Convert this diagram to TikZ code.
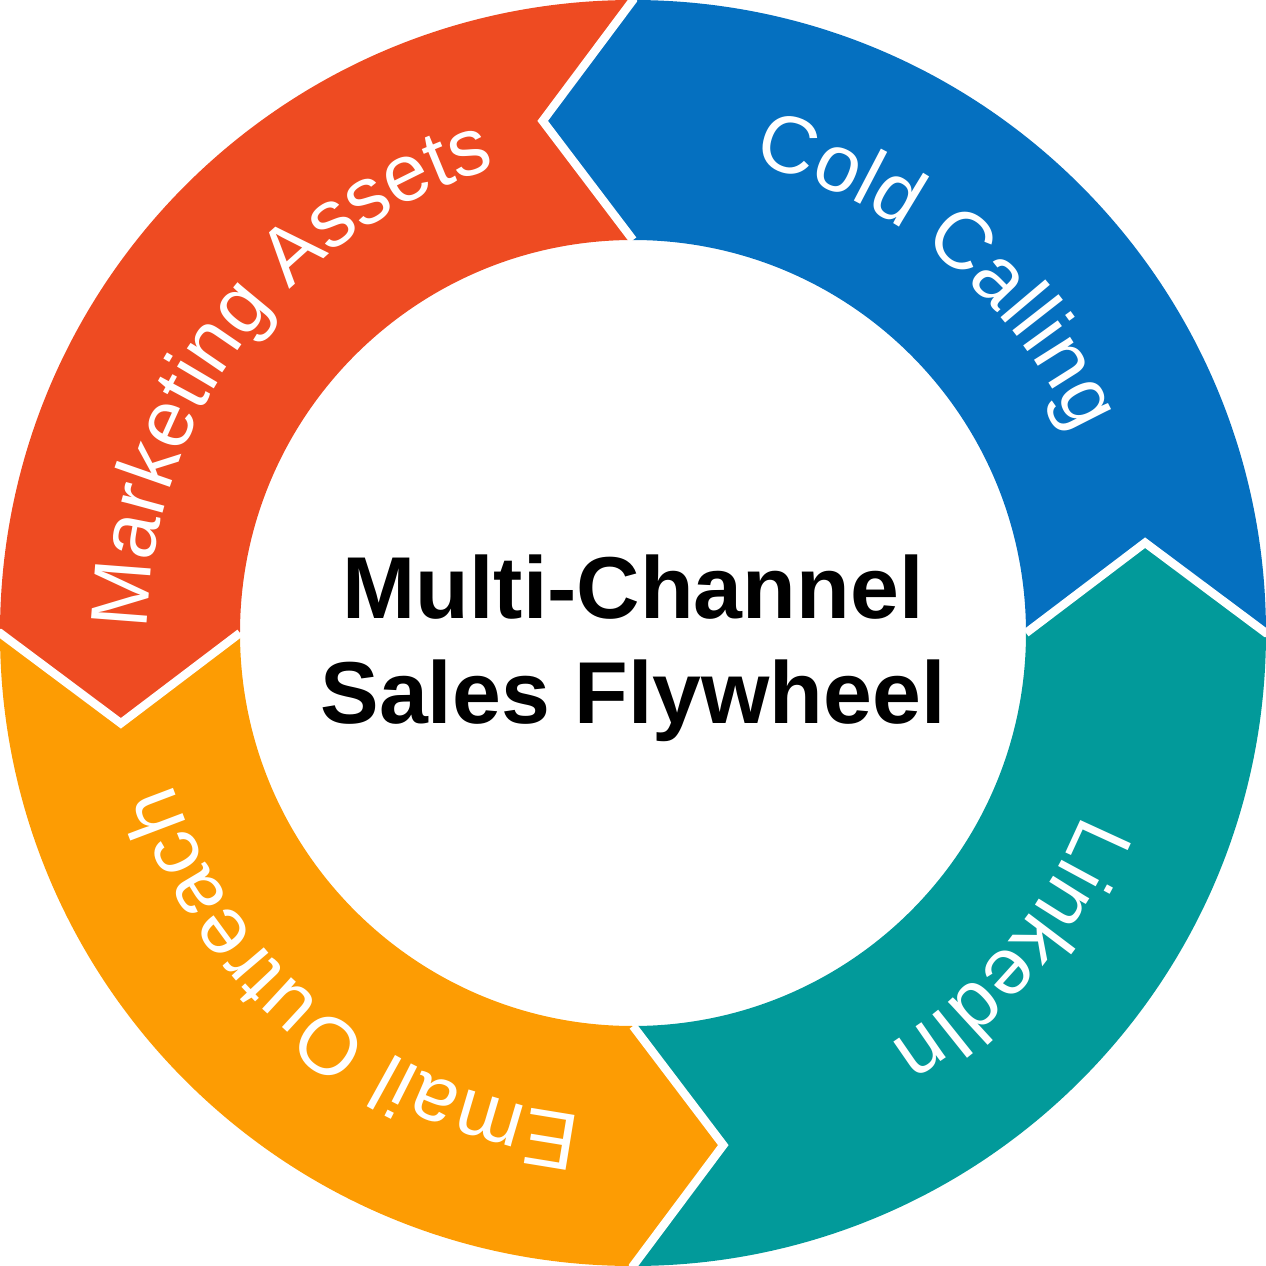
\documentclass[tikz,border=0pt]{standalone}
\usepackage{fontspec}
\setmainfont{Liberation Sans}
\usetikzlibrary{decorations.text}
\definecolor{cred}{HTML}{EE4B22}
\definecolor{cblue}{HTML}{0570C0}
\definecolor{cteal}{HTML}{029A9A}
\definecolor{corange}{HTML}{FD9C03}
\tikzset{
  gap/.style={draw=white,line width=2.4pt,line join=miter},
  lbl/.style={decorate,decoration={text along path,text align=center,
     text={|\fontsize{23}{26}\selectfont\color{white}|#1}}}
}
\newcommand{\segpath}{(90:6.33) arc[start angle=90,end angle=180,radius=6.33] -- (190:5.2) -- (180:3.93) arc[start angle=180,end angle=90,radius=3.93] -- (100:5.2) -- cycle}
\begin{document}
\begin{tikzpicture}
\useasboundingbox (-6.33,-6.33) rectangle (6.33,6.33);
\fill[cred] \segpath;
\begin{scope}[rotate=-90]\fill[cblue] \segpath;\end{scope}
\begin{scope}[rotate=-180]\fill[cteal] \segpath;\end{scope}
\begin{scope}[rotate=-270]\fill[corange] \segpath;\end{scope}
\foreach \r in {0,-90,-180,-270}{
  \begin{scope}[rotate=\r]
  \draw[gap] (90:6.4) -- (90:6.33) -- (100:5.2) -- (90:3.93);
  \end{scope}}
\path[lbl={Marketing Assets}] (190:4.85) arc[start angle=190,end angle=96,radius=4.85];
\path[lbl={Cold Calling}] (97:4.85) arc[start angle=97,end angle=3,radius=4.85];
\path[lbl={LinkedIn}] (5:4.85) arc[start angle=5,end angle=-85,radius=4.85];
\path[lbl={Email Outreach}] (-82:4.85) arc[start angle=-82,end angle=-176,radius=4.85];
\node[font=\bfseries\fontsize{25}{30}\selectfont,align=center] (title) at (0,-0.15) {Multi-Channel\\Sales Flywheel};
\end{tikzpicture}
\end{document}
